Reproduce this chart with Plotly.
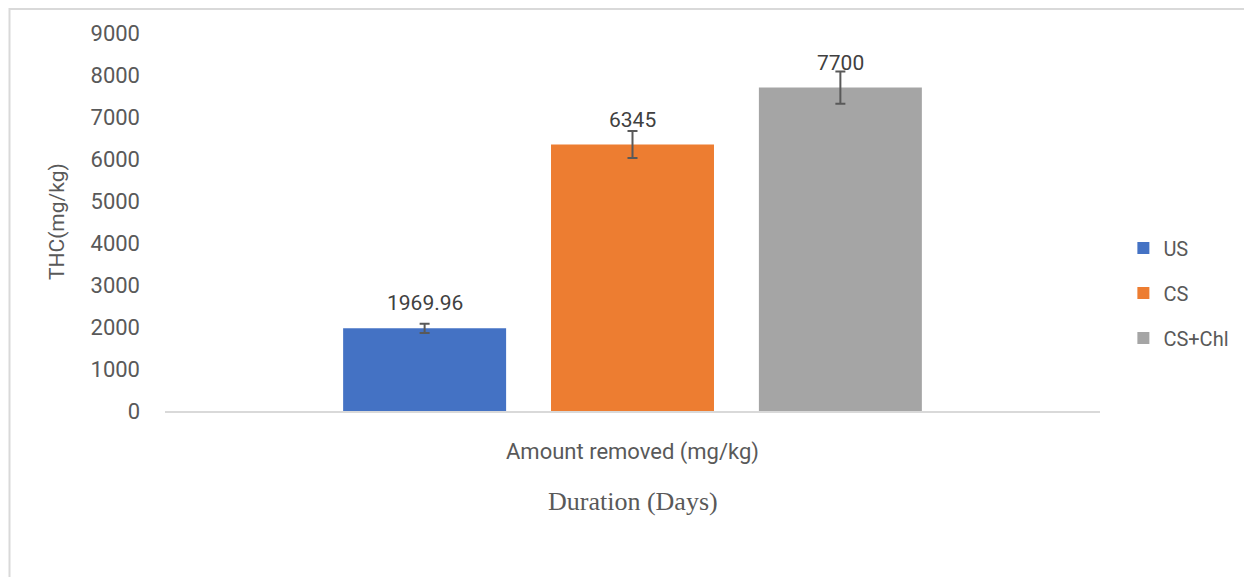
import plotly.graph_objects as go

categories = ["Amount removed (mg/kg)"]
series_names = ["US", "CS", "CS+Chl"]
values = [1969.96, 6345, 7700]
errors = [110, 320, 385]
labels = ["1969.96", "6345", "7700"]
colors = ["#4472C4", "#ED7D31", "#A5A5A5"]
y_ticks = [0, 1000, 2000, 3000, 4000, 5000, 6000, 7000, 8000, 9000]

BARGAP = 0.333
BARGROUPGAP = 0.216

fig = go.Figure()
for i, name in enumerate(series_names):
    fig.add_trace(go.Bar(
        x=categories, y=[values[i]], name=name, legendgroup=name,
        marker=dict(color=colors[i], line=dict(width=0)),
        error_y=dict(type="data", array=[errors[i]], visible=True,
                     color="#595959", thickness=2, width=5),
    ))

# data labels above each bar
w = 1 - BARGAP
slot = w / len(series_names)
annotations = []
for i, name in enumerate(series_names):
    xc = -w / 2 + slot * (i + 0.5)
    annotations.append(dict(x=xc, y=values[i], xref="x", yref="y", text=labels[i],
                            showarrow=False, yanchor="bottom", yshift=11,
                            font=dict(family="Roboto", size=21, color="#404040")))

annotations.append(dict(x=-0.1155, y=0.5, xref="paper", yref="paper", text="THC(mg/kg)",
                        textangle=-90, showarrow=False, xanchor="center", yanchor="middle",
                        font=dict(family="Roboto", size=21, color="#595959")))
annotations.append(dict(x=0.5, y=-0.2407, xref="paper", yref="paper", text="Duration (Days)",
                        showarrow=False, xanchor="center", yanchor="middle",
                        font=dict(family="Liberation Serif", size=26, color="#595959")))

fig.update_layout(
    width=1244, height=569,
    margin=dict(l=157, r=152, t=25, b=166),
    paper_bgcolor="white", plot_bgcolor="white",
    barmode="group", bargap=BARGAP, bargroupgap=BARGROUPGAP,
    font=dict(family="Roboto", color="#595959", size=20),
    showlegend=True,
    legend=dict(x=1.025, xanchor="left", y=0.312, yanchor="middle",
                font=dict(family="Roboto", size=20, color="#595959"),
                tracegroupgap=16, itemwidth=30, bgcolor="rgba(0,0,0,0)"),
    annotations=annotations,
    shapes=[dict(type="rect", xref="paper", yref="paper", x0=-0.1663, x1=1.1599,
                 y0=-0.6, y1=1.0635, line=dict(color="#D9D9D9", width=2), layer="below")],
)
fig.update_xaxes(showline=True, linecolor="#D9D9D9", linewidth=2, showgrid=False,
                 ticks="", ticklabelstandoff=20, zeroline=False,
                 tickfont=dict(family="Roboto", size=22, color="#595959"))
fig.update_yaxes(range=[0, 9000], tickvals=y_ticks, showgrid=False, zeroline=False,
                 showline=False, ticks="", ticklabelstandoff=24,
                 tickfont=dict(family="Roboto", size=22, color="#595959"))

fig.write_html("out.html")
